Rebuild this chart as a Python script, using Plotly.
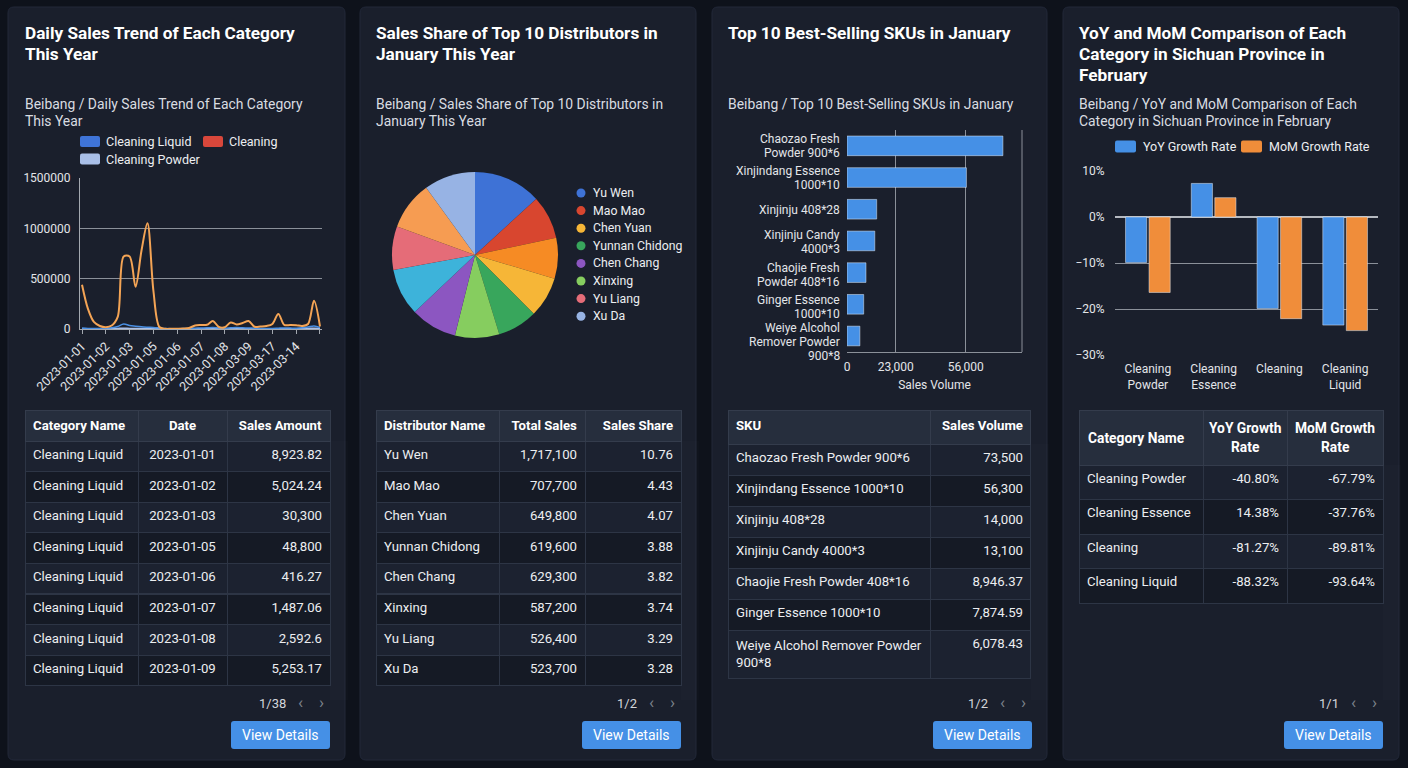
import plotly.graph_objects as go

W, H = 1408, 768
FONT = "Roboto"

# ---------------- data ----------------
# Panel 1: daily sales trend (41 daily points)
trend_ticktext = ["2023-01-01", "2023-01-02", "2023-01-03", "2023-01-05", "2023-01-06",
                  "2023-01-07", "2023-01-08", "2023-03-09", "2023-03-17", "2023-03-14", ""]
trend_cleaning = [440000, 200000, 70000, 30000, 18000, 35000, 120000, 720000, 720000, 420000,
                  780000, 1050000, 380000, 20000, 2000, 2000, 3000, 5000, 10000, 35000,
                  40000, 42000, 80000, 20000, 18000, 65000, 45000, 60000, 80000, 22000,
                  25000, 30000, 50000, 150000, 40000, 40000, 38000, 30000, 50000, 280000, 25000]
trend_liquid = [9000, 5000, 6000, 5000, 8000, 12000, 25000, 50000, 35000, 28000,
                22000, 18000, 15000, 10000, 5000, 3000, 3000, 4000, 6000, 8000,
                10000, 12000, 14000, 10000, 8000, 12000, 15000, 12000, 10000, 8000,
                6000, 5000, 6000, 8000, 10000, 9000, 8000, 12000, 20000, 30000, 15000]
trend_powder = [3000, 2000, 2000, 2000, 3000, 4000, 6000, 8000, 6000, 5000,
                4000, 4000, 3000, 2000, 1000, 1000, 1000, 1000, 2000, 2000,
                3000, 3000, 4000, 3000, 2000, 3000, 4000, 3000, 3000, 2000,
                2000, 2000, 2000, 3000, 3000, 3000, 2000, 3000, 5000, 8000, 4000]

trend_tbl_cat = ["Cleaning Liquid"] * 8
trend_tbl_date = ["2023-01-01", "2023-01-02", "2023-01-03", "2023-01-05",
                  "2023-01-06", "2023-01-07", "2023-01-08", "2023-01-09"]
trend_tbl_amount = [8923.82, 5024.24, 30300, 48800, 416.27, 1487.06, 2592.6, 5253.17]

# Panel 2: distributors
pie_labels = ["Yu Wen", "Mao Mao", "Distributor 9", "Chen Yuan", "Yunnan Chidong", "Xinxing",
              "Chen Chang", "Distributor 10", "Yu Liang", "Others", "Xu Da"]
pie_values = [47.5, 30.5, 28.6, 28.4, 28.0, 31.0, 32.6, 33.0, 30.4, 34.0, 36.0]
dist_names = ["Yu Wen", "Mao Mao", "Chen Yuan", "Yunnan Chidong", "Chen Chang", "Xinxing", "Yu Liang", "Xu Da"]
dist_total = [1717100, 707700, 649800, 619600, 629300, 587200, 526400, 523700]
dist_share = [10.76, 4.43, 4.07, 3.88, 3.82, 3.74, 3.29, 3.28]

# Panel 3: SKUs
sku_axis_labels = ["Chaozao Fresh<br>Powder 900*6", "Xinjindang Essence<br>1000*10", "Xinjinju 408*28",
                   "Xinjinju Candy<br>4000*3", "Chaojie Fresh<br>Powder 408*16", "Ginger Essence<br>1000*10",
                   "Weiye Alcohol<br>Remover Powder<br>900*8"]
sku_names = ["Chaozao Fresh Powder 900*6", "Xinjindang Essence 1000*10", "Xinjinju 408*28",
             "Xinjinju Candy 4000*3", "Chaojie Fresh Powder 408*16", "Ginger Essence 1000*10",
             "Weiye Alcohol Remover Powder<br>900*8"]
sku_volume = [73500, 56300, 14000, 13100, 8946.37, 7874.59, 6078.43]
sku_ticks = [0, 23000, 56000]

# Panel 4: YoY / MoM
cmp_axis_labels = ["Cleaning<br>Powder", "Cleaning<br>Essence", "Cleaning", "Cleaning<br>Liquid"]
cmp_yoy_chart = [-9.9, 7.3, -19.9, -23.5]
cmp_mom_chart = [-16.4, 4.2, -22.1, -24.7]
cmp_names = ["Cleaning Powder", "Cleaning Essence", "Cleaning", "Cleaning Liquid"]
cmp_yoy_tbl = [-40.80, 14.38, -81.27, -88.32]
cmp_mom_tbl = [-67.79, -37.76, -89.81, -93.64]
cmp_headers = ["Category Name", "YoY Growth<br>Rate", "MoM Growth<br>Rate"]

pages = ["1/38", "1/2", "1/2", "1/1"]

# ---------------- style ----------------
BG = "#0e121b"
PANEL = "#1a1f2c"
HEAD = "#262e3d"
ROW1 = "#1c2230"
ROW2 = "#151a25"
TLINE = "#2d3545"
GRID = "#8b9099"
AXIS = "#a3a8b0"
TXT = "#eceef1"
TICK = "#e3e5e9"
SUB = "#d9dce1"
BLUE = "#4590e6"
ORANGE = "#f08d3a"
TFS = 13.2
HFS = 13.2

pie_colors = ["#3e72d6", "#d8462f", "#f68b24", "#f6b637", "#38a65c", "#86cd5f",
              "#8c56c1", "#3db3da", "#e56c78", "#f69c52", "#97b3e4"]
legend_dist_colors = ["#3e72d6", "#d8462f", "#f6b637", "#38a65c", "#8c56c1", "#86cd5f", "#e56c78", "#97b3e4"]


def X(x):
    return x / W


def Y(y):
    return 1 - y / H


def rrect(x0, y0, x1, y1, r):
    return (f"M {X(x0 + r)} {Y(y0)} L {X(x1 - r)} {Y(y0)} Q {X(x1)} {Y(y0)} {X(x1)} {Y(y0 + r)} "
            f"L {X(x1)} {Y(y1 - r)} Q {X(x1)} {Y(y1)} {X(x1 - r)} {Y(y1)} "
            f"L {X(x0 + r)} {Y(y1)} Q {X(x0)} {Y(y1)} {X(x0)} {Y(y1 - r)} "
            f"L {X(x0)} {Y(y0 + r)} Q {X(x0)} {Y(y0)} {X(x0 + r)} {Y(y0)} Z")


def fmt_num(v):
    s = f"{v:,.2f}"
    if "." in s:
        s = s.rstrip("0").rstrip(".")
    return s


shapes = []
annotations = []


def text(x, y, s, size=14, color=TXT, xanchor="left", bold=False):
    annotations.append(dict(x=X(x), y=Y(y), xref="paper", yref="paper", text=s, showarrow=False,
                            xanchor=xanchor, yanchor="middle", borderpad=0,
                            font=dict(size=size, color=color, family=FONT,
                                      weight="bold" if bold else "normal")))


fig = go.Figure()

# panels
panels = [(8, 345), (360, 696), (712, 1047), (1063, 1399)]
for (a, b) in panels:
    shapes.append(dict(type="path", path=rrect(a, 7, b, 760, 6), xref="paper", yref="paper",
                       fillcolor=PANEL, line=dict(color="#222839", width=1), layer="below"))

# titles
titles = [
    ["Daily Sales Trend of Each Category", "This Year"],
    ["Sales Share of Top 10 Distributors in", "January This Year"],
    ["Top 10 Best-Selling SKUs in January"],
    ["YoY and MoM Comparison of Each", "Category in Sichuan Province in", "February"],
]
subtitles = [
    ["Beibang / Daily Sales Trend of Each Category", "This Year"],
    ["Beibang / Sales Share of Top 10 Distributors in", "January This Year"],
    ["Beibang / Top 10 Best-Selling SKUs in January"],
    ["Beibang / YoY and MoM Comparison of Each", "Category in Sichuan Province in February"],
]
lefts = [25, 376, 728, 1079]
rights = [330, 681, 1032, 1383]
for i in range(4):
    for j, line in enumerate(titles[i]):
        text(lefts[i] - 1, 33 + 21 * j, line, size=17.2, color="#ffffff", bold=True)
    for j, line in enumerate(subtitles[i]):
        text(lefts[i] - 1, 104 + 17 * j, line, size=13.9, color=SUB)

# pagination + buttons
for i in range(4):
    R = rights[i]
    text(R - 43, 703, pages[i], size=13, color="#d3d6db", xanchor="right")
    text(R - 30, 702, "‹", size=17, color="#7d838d", xanchor="center")
    text(R - 9, 702, "›", size=17, color="#7d838d", xanchor="center")
    shapes.append(dict(type="path", path=rrect(R - 99, 721, R, 749, 3), xref="paper", yref="paper",
                       fillcolor=BLUE, line=dict(width=0), layer="above"))
    text(R - 49.5, 735, "View Details", size=14, color="#ffffff", xanchor="center")

# ---------- Panel 1: line chart ----------
idx = list(range(len(trend_cleaning)))
fig.add_trace(go.Scatter(x=idx, y=trend_powder, mode="lines", line=dict(color="#a9bfe8", width=1.5, shape="spline"),
                         name="Cleaning Powder", xaxis="x", yaxis="y", showlegend=False))
fig.add_trace(go.Scatter(x=idx, y=trend_liquid, mode="lines", line=dict(color="#4a8fe3", width=1.5, shape="spline"),
                         name="Cleaning Liquid", xaxis="x", yaxis="y", showlegend=False))
fig.add_trace(go.Scatter(x=idx, y=trend_cleaning, mode="lines",
                         line=dict(color="#f4a455", width=2, shape="spline", smoothing=0.9),
                         name="Cleaning", xaxis="x", yaxis="y", showlegend=False))

# legend panel 1
leg1 = [(80, 141.5, "#3f74d8", "Cleaning Liquid"), (203, 141.5, "#d9473b", "Cleaning"),
        (80, 159, "#a9bfe8", "Cleaning Powder")]
for (lx, ly, c, name) in leg1:
    shapes.append(dict(type="path", path=rrect(lx, ly - 5.5, lx + 20, ly + 5.5, 2), xref="paper", yref="paper",
                       fillcolor=c, line=dict(width=0), layer="above"))
    text(lx + 25, ly, name, size=12.5, color=TXT)


def add_table(x0, x1, y0, y1, header, cols, widths, halign, calign, hh, ch, nrows):
    fills = [ROW1 if k % 2 == 0 else ROW2 for k in range(nrows)]
    fig.add_trace(go.Table(
        domain=dict(x=[X(x0), X(x1)], y=[Y(y1), Y(y0)]),
        columnwidth=widths,
        header=dict(values=[f"<b>{h}</b>" if h else "" for h in header], fill_color=HEAD,
                    line=dict(color="#343c4c", width=1), align=halign,
                    font=dict(family=FONT, size=HFS, color="#ffffff"), height=hh),
        cells=dict(values=cols, fill_color=[fills] * len(cols), line=dict(color=TLINE, width=1),
                   align=calign, font=dict(family=FONT, size=TFS, color=TXT), height=ch),
    ))


add_table(25, 330, 410, 700, ["Category Name", "Date", "Sales Amount"],
          [trend_tbl_cat, trend_tbl_date, [fmt_num(v) for v in trend_tbl_amount]],
          [113, 89, 103], ["left", "center", "right"], ["left", "center", "right"], 30, 30.6, 8)

# ---------- Panel 2: pie ----------
fig.add_trace(go.Pie(labels=pie_labels, values=pie_values, sort=False, direction="clockwise", rotation=0,
                     marker=dict(colors=pie_colors, line=dict(width=0)), textinfo="none",
                     domain=dict(x=[X(392), X(558)], y=[Y(338), Y(172)]), showlegend=False))
for k, name in enumerate(dist_names):
    yy = 193 + 17.6 * k
    shapes.append(dict(type="circle", xref="paper", yref="paper", x0=X(576.5), x1=X(585.5),
                       y0=Y(yy + 4.5), y1=Y(yy - 4.5), fillcolor=legend_dist_colors[k],
                       line=dict(width=0), layer="above"))
    text(592, yy, name, size=12.3, color=TXT)

add_table(376, 681, 410, 700, ["Distributor Name", "Total Sales", "Sales Share"],
          [dist_names, [fmt_num(v) for v in dist_total], [f"{v:.2f}" for v in dist_share]],
          [123, 86, 96], ["left", "right", "right"], ["left", "right", "right"], 30.5, 30.6, 8)

# ---------- Panel 3: horizontal bar ----------
fig.add_trace(go.Bar(x=sku_volume, y=sku_axis_labels, orientation="h", marker=dict(color=BLUE),
                     width=[0.62] * len(sku_volume), xaxis="x2", yaxis="y2", showlegend=False))
shapes.append(dict(type="line", xref="x2 domain", yref="y2 domain", x0=1, x1=1, y0=0, y1=1,
                   line=dict(color=GRID, width=1)))
# category labels positioned on the y2 category scale, with compact line spacing
for k, lab in enumerate(sku_axis_labels):
    parts = lab.split("<br>")
    n = len(parts)
    for j, part in enumerate(parts):
        annotations.append(dict(x=X(841), xref="paper", y=lab, yref="y2", text=part, showarrow=False,
                                xanchor="right", yanchor="middle", borderpad=0,
                                yshift=-(j - (n - 1) / 2) * 14 - 0.5 * k - (3 if n == 3 else 0),
                                font=dict(family=FONT, size=12, color=TICK)))
add_table(728, 1032, 410, 700, ["SKU", "Sales Volume"],
          [sku_names, [fmt_num(v) for v in sku_volume]],
          [203, 101], ["left", "right"], ["left", "right"], 34, 31, 7)

# ---------- Panel 4: grouped bar ----------
fig.add_trace(go.Bar(x=cmp_axis_labels, y=cmp_yoy_chart, name="YoY Growth Rate", marker=dict(color=BLUE),
                     xaxis="x3", yaxis="y3", showlegend=False))
fig.add_trace(go.Bar(x=cmp_axis_labels, y=cmp_mom_chart, name="MoM Growth Rate", marker=dict(color=ORANGE),
                     xaxis="x3", yaxis="y3", showlegend=False))
leg4 = [(1115, "#4590e6", "YoY Growth Rate"), (1241, ORANGE, "MoM Growth Rate")]
for (lx, c, name) in leg4:
    shapes.append(dict(type="path", path=rrect(lx, 140.5, lx + 21, 152.5, 2), xref="paper", yref="paper",
                       fillcolor=c, line=dict(width=0), layer="above"))
    text(lx + 27, 146.5, name, size=12.5, color=TXT)

# table 4: header text placed as centred annotations (two-line headers)
add_table(1079, 1383, 410, 700, ["", "", ""],
          [cmp_names, [f"{v:.2f}%" for v in cmp_yoy_tbl], [f"{v:.2f}%" for v in cmp_mom_tbl]],
          [124, 84, 96], ["left", "center", "center"], ["left", "right", "right"], 55, 34.5, 4)
text(1087, 437.5, f"<b>{cmp_headers[0]}</b>", size=13.8, color="#ffffff")
for cx, h in zip([1245, 1335], cmp_headers[1:]):
    for j, part in enumerate(h.split("<br>")):
        text(cx, 428 + 19 * j, f"<b>{part}</b>", size=13.8, color="#ffffff", xanchor="center")

tickfont = dict(family=FONT, size=12, color=TICK)
fig.update_layout(
    width=W, height=H, margin=dict(l=0, r=0, t=0, b=0, pad=0, autoexpand=False),
    paper_bgcolor=BG, plot_bgcolor="rgba(0,0,0,0)",
    font=dict(family=FONT, color=TXT),
    barmode="group", bargap=0.285, bargroupgap=0.1,
    shapes=shapes, annotations=annotations,
    xaxis=dict(domain=[X(80), X(322)], anchor="y", range=[-0.34, len(idx) - 1 + 0.34], automargin=False,
               tickvals=list(range(0, len(idx), 4)), ticktext=trend_ticktext, tickangle=-45,
               showgrid=False, zeroline=False, showline=True, linecolor=AXIS, ticks="outside",
               ticklen=4, tickcolor=AXIS, tickfont=dict(family=FONT, size=12.5, color=TICK)),
    yaxis=dict(domain=[Y(329), Y(178)], anchor="x", range=[0, 1500000], automargin=False,
               tickvals=[0, 500000, 1000000, 1500000], tickformat="d", showgrid=True,
               gridcolor=GRID, zeroline=False, showline=True, linecolor=AXIS, ticks="outside",
               ticklen=6, tickcolor="rgba(0,0,0,0)", tickfont=tickfont),
    xaxis2=dict(domain=[X(847), X(1022)], anchor="y2", range=[0, 82500], tickvals=sku_ticks, automargin=False,
                tickformat=",", showgrid=True, gridcolor=GRID, zeroline=False, showline=True,
                linecolor=GRID, tickfont=tickfont, ticks="outside", ticklen=4, tickcolor="rgba(0,0,0,0)",
                title=dict(text="Sales Volume", font=dict(family=FONT, size=12, color=TICK), standoff=7)),
    yaxis2=dict(domain=[Y(352), Y(130)], anchor="x2", autorange="reversed", showgrid=False, automargin=False,
                zeroline=False, showline=False, showticklabels=False, categoryorder="array",
                categoryarray=sku_axis_labels),
    xaxis3=dict(domain=[X(1115), X(1378)], anchor="y3", showgrid=False, zeroline=False, showline=False,
                automargin=False, ticks="outside", ticklen=3, tickcolor="rgba(0,0,0,0)", tickfont=tickfont),
    yaxis3=dict(domain=[Y(355), Y(171)], anchor="x3", range=[-30, 10], dtick=10, ticksuffix="%",
                automargin=False, showgrid=True, gridcolor=GRID, zeroline=True, zerolinecolor="#b5b9c0",
                zerolinewidth=1.5, ticks="outside", ticklen=7, tickcolor="rgba(0,0,0,0)", tickfont=tickfont),
)

fig.write_html("out.html")
